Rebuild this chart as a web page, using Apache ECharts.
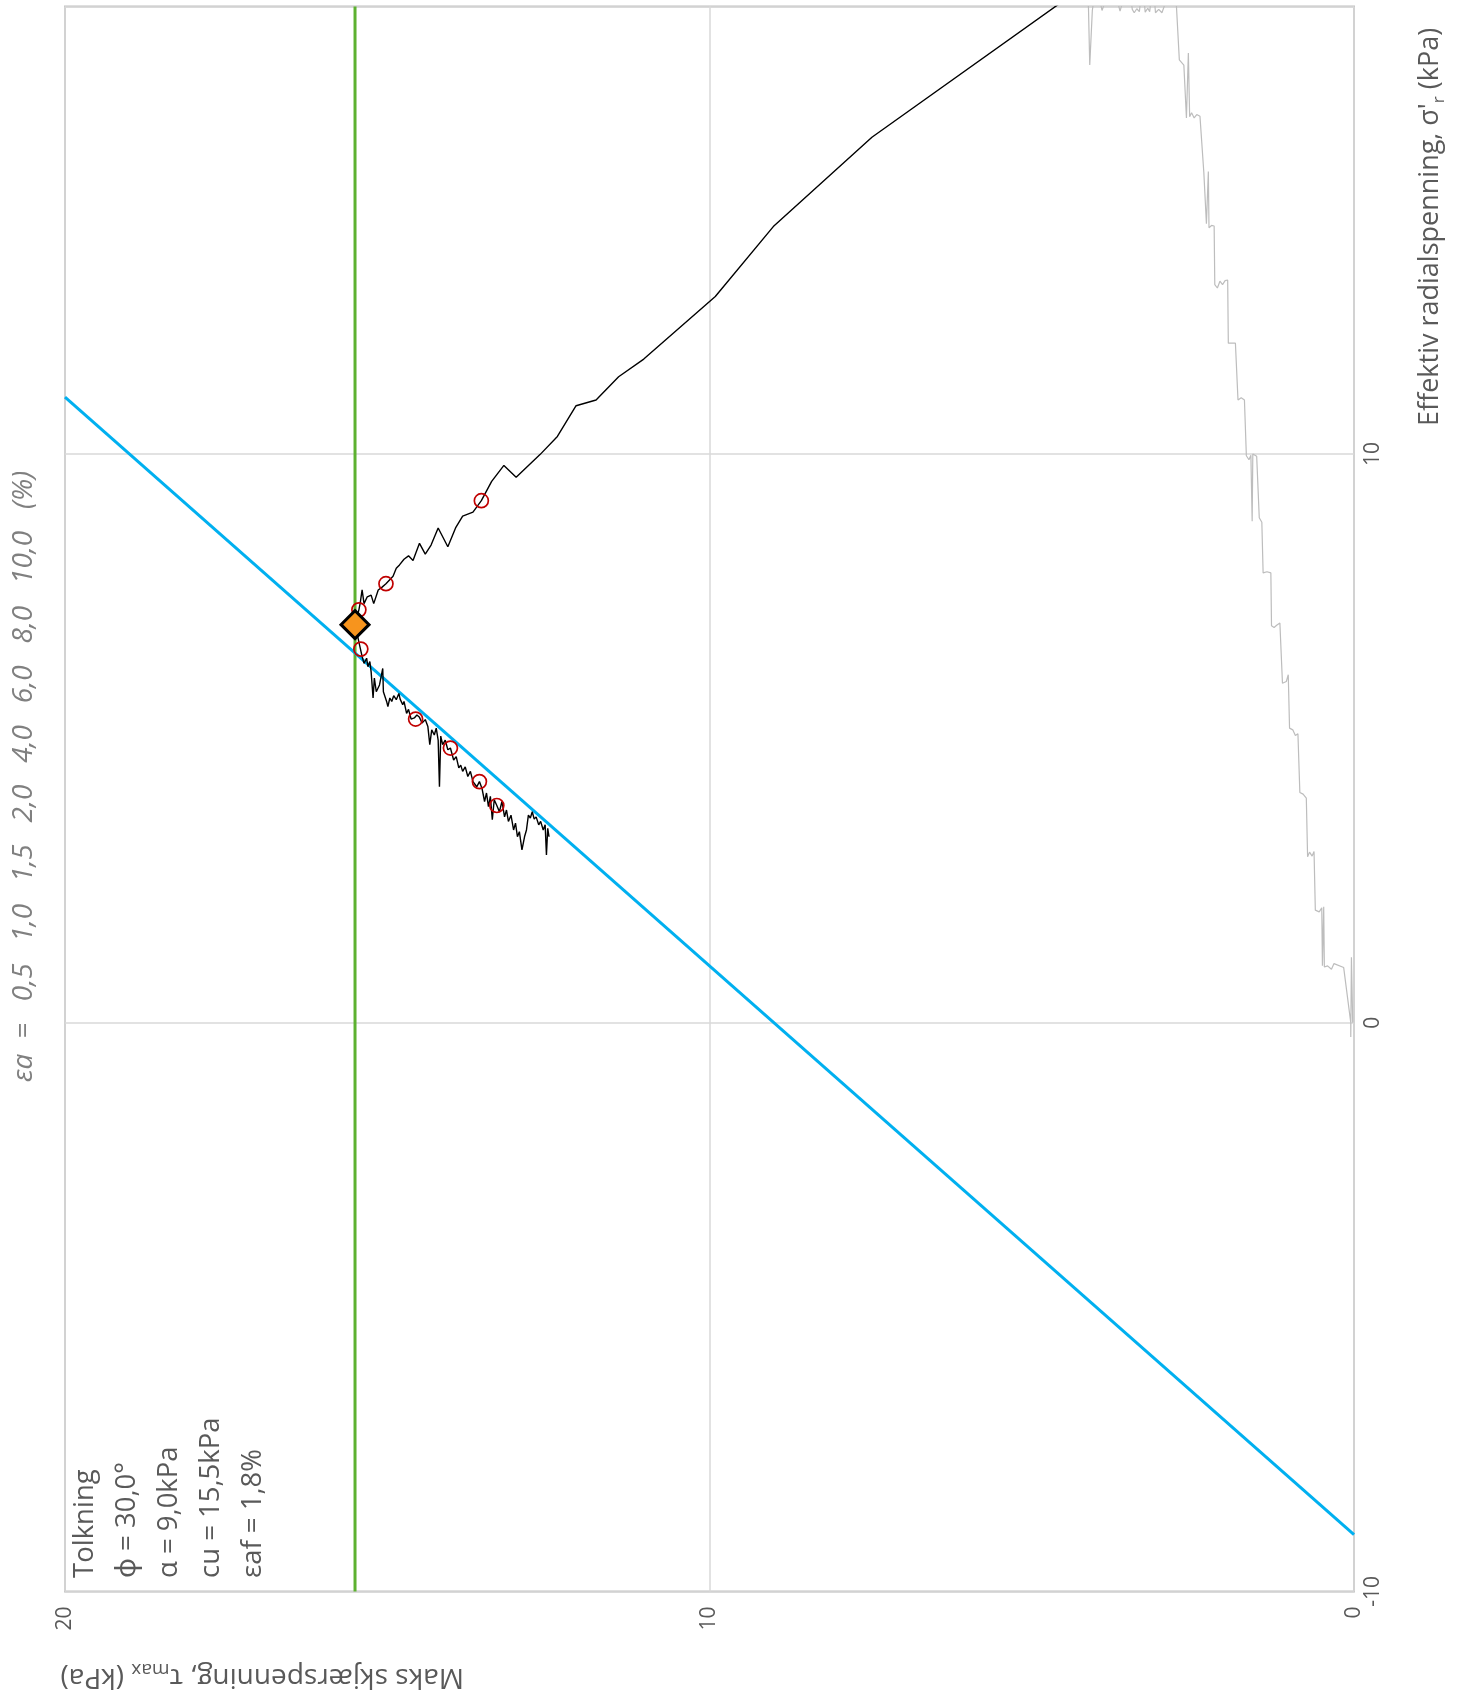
<!DOCTYPE html>
<html>
<head>
<meta charset="utf-8">
<title>Spenningssti – maks skjærspenning mot effektiv radialspenning</title>
<script src="https://cdn.jsdelivr.net/npm/echarts@6.0.0/dist/echarts.min.js"></script>
<style>
  html, body { margin: 0; padding: 0; background: #ffffff; }
  #chart { width: 1464px; height: 1692px; }
</style>
</head>
<body>
<div id="chart"></div>
<script>
// Stress path plot: shear stress tau_max (horizontal, reversed) against
// effective radial stress sigma'_r (vertical, axis on the right side).

// Axis ranges and tick values (kPa)
const tauMin = 0, tauMax = 20;
const sigmaMin = -10, sigmaMax = 17.87;
const tauTicks = [0, 10, 20];
const sigmaTicks = [-10, 0, 10];

// Interpretation parameters
const phiDeg = 30.0;      // friction angle
const attraction = 9.0;   // a, kPa
const cu = 15.5;          // undrained shear strength, kPa
const eaf = 1.8;          // axial strain at failure, %
const failureSigma = 7.0; // sigma'_r at the failure point, kPa

// Consolidation phase, [sigma'_r, tau]
const consolidationPath = [
  [0.00,0.02],[1.15,0.04],[-0.25,0.05],[0.00,0.05],[0.97,0.16],[1.04,0.31],[0.94,0.35],
  [1.00,0.41],[0.98,0.46],[2.04,0.47],[1.00,0.49],[2.02,0.50],[1.95,0.54],[1.98,0.60],
  [3.01,0.62],[2.93,0.65],[3.00,0.69],[2.92,0.72],[3.95,0.74],[4.02,0.79],[4.05,0.84],
  [5.08,0.87],[5.05,0.91],[5.15,0.95],[5.18,1.00],[6.12,1.02],[6.00,1.05],[5.97,1.11],
  [7.03,1.15],[6.99,1.20],[6.95,1.24],[6.98,1.28],[7.91,1.29],[7.93,1.35],[7.91,1.41],
  [8.80,1.43],[8.88,1.47],[9.96,1.51],[10.00,1.57],[8.82,1.58],[9.98,1.60],[9.90,1.63],
  [9.97,1.67],[10.95,1.70],[10.99,1.75],[10.95,1.80],[10.92,1.83],[11.95,1.84],[11.95,1.90],
  [11.95,1.95],[13.06,1.96],[13.05,2.00],[12.98,2.04],[13.04,2.08],[12.92,2.12],[12.98,2.16],
  [14.01,2.17],[14.02,2.21],[13.98,2.25],[14.97,2.26],[14.05,2.29],[14.95,2.33],[14.97,2.36],
  [15.94,2.39],[15.97,2.44],[15.91,2.48],[16.00,2.52],[15.93,2.55],[17.05,2.57],[15.91,2.60],
  [16.84,2.64],[16.87,2.67],[16.93,2.71],[18.40,2.78],[17.76,2.98],[17.82,3.03],[17.76,3.08],
  [18.30,3.12],[17.78,3.17],[17.84,3.20],[17.77,3.24],[18.30,3.28],[17.78,3.33],[17.83,3.37],
  [17.76,3.41],[17.82,3.44],[18.30,3.50],[17.79,3.63],[18.30,3.75],[17.80,3.91],[18.30,4.00],
  [17.80,4.06],[16.84,4.10],[17.85,4.12],[18.40,4.16]
];

// Shearing phase, [sigma'_r, tau]
const shearPath = [
  [18.30,4.10],[15.57,7.48],[14.00,9.01],[12.77,9.91],[11.67,11.02],[11.36,11.41],[10.95,11.76],
  [10.85,12.07],[10.31,12.36],[9.99,12.63],[9.59,13.00],[9.80,13.19],[9.52,13.38],[9.18,13.54],
  [8.98,13.67],[8.91,13.83],[8.70,13.94],[8.37,14.06],[8.70,14.21],[8.40,14.32],[8.24,14.41],
  [8.43,14.50],[8.13,14.60],[8.21,14.67],[8.15,14.74],[8.05,14.81],[7.99,14.86],[7.85,14.91],
  [7.72,15.02],[7.66,15.08],[7.61,15.14],[7.37,15.21],[7.52,15.25],[7.49,15.31],[7.37,15.36],
  [7.61,15.39],[7.38,15.42],[7.26,15.44],[7.00,15.50],[6.80,15.46],[6.59,15.42],[6.44,15.39],
  [6.32,15.36],[6.41,15.32],[6.26,15.30],[6.35,15.27],[6.17,15.25],[5.71,15.22],[6.06,15.20],
  [5.82,15.17],[5.94,15.12],[6.23,15.07],[5.82,15.06],[5.65,15.01],[5.56,14.99],[5.71,14.96],
  [5.65,14.93],[5.75,14.90],[5.68,14.86],[5.79,14.82],[5.69,14.80],[5.59,14.76],[5.65,14.74],
  [5.44,14.70],[5.51,14.67],[5.34,14.63],[5.36,14.58],[5.41,14.54],[5.37,14.50],[5.27,14.46],
  [5.33,14.41],[5.21,14.37],[4.89,14.34],[5.15,14.31],[5.06,14.27],[5.18,14.24],[4.97,14.21],
  [4.15,14.19],[5.04,14.17],[4.89,14.14],[4.97,14.10],[4.80,14.06],[4.83,14.02],[4.62,13.97],
  [4.68,13.93],[4.48,13.89],[4.53,13.86],[4.42,13.83],[4.50,13.79],[4.33,13.75],[4.42,13.71],
  [4.24,13.67],[4.15,13.61],[4.24,13.57],[4.12,13.53],[3.89,13.49],[4.04,13.46],[3.80,13.43],
  [3.98,13.40],[3.57,13.37],[3.92,13.34],[3.82,13.30],[3.71,13.26],[3.89,13.22],[3.62,13.18],
  [3.74,13.15],[3.54,13.12],[3.65,13.08],[3.39,13.04],[3.51,13.01],[3.27,12.98],[3.36,12.95],
  [3.04,12.91],[3.27,12.87],[3.39,12.84],[3.65,12.81],[3.60,12.78],[3.71,12.75],[3.58,12.72],
  [3.62,12.69],[3.48,12.65],[3.54,12.62],[3.39,12.58],[3.48,12.55],[2.95,12.53],[3.42,12.51],
  [3.27,12.49]
];

// Axial strain markers along the shear path
const strainLevels = ['0,5', '1,0', '1,5', '2,0', '4,0', '6,0', '8,0', '10,0'];
const strainSigma  = [9.18, 7.72, 7.26, 6.57, 5.34, 4.83, 4.24, 3.82];
const strainTau    = [13.54, 15.02, 15.44, 15.41, 14.56, 14.02, 13.57, 13.30];

// ---------------------------------------------------------------------------
const FONT = '"Open Sans", "Noto Sans", sans-serif';
const TEXT_GREY = '#595959';
const fmt1 = v => v.toFixed(1).replace('.', ',');

// Failure envelope tau = (sigma'_r + a) * N, N = sin(phi) / (1 - sin(phi))
const sinPhi = Math.sin(phiDeg * Math.PI / 180);
const N = sinPhi / (1 - sinPhi);
const envelope = [[tauMin, -attraction], [tauMax, tauMax / N - attraction]];

const toXY = p => [p[1], p[0]]; // [sigma, tau] -> [x = tau, y = sigma]

const strainHeader = 'εa  =   ' + strainLevels.join('   ') + '   (%)';
const interpText = [
  'Tolkning',
  'ϕ = ' + fmt1(phiDeg) + '°',
  'α = ' + fmt1(attraction) + 'kPa',
  'cu = ' + fmt1(cu) + 'kPa',
  'εaf = ' + fmt1(eaf) + '%'
].join('\n');

const chart = echarts.init(document.getElementById('chart'), null, { renderer: 'canvas' });

chart.setOption({
  animation: false,
  backgroundColor: '#ffffff',
  grid: {
    left: 65, right: 110, top: 6.5, bottom: 100.6,
    show: true, borderColor: '#bfbfbf', borderWidth: 2, backgroundColor: 'transparent'
  },
  xAxis: {
    type: 'value', min: tauMin, max: tauMax, interval: 10, inverse: true,
    position: 'bottom',
    axisLine: { show: false }, axisTick: { show: false },
    splitLine: { show: true, lineStyle: { color: '#d9d9d9', width: 1.5 } },
    axisLabel: {
      rotate: 90, margin: 15, color: TEXT_GREY, fontFamily: FONT, fontSize: 21,
      formatter: v => tauTicks.includes(v) ? String(v) : ''
    }
  },
  yAxis: {
    type: 'value', min: sigmaMin, max: sigmaMax, interval: 10,
    position: 'right',
    axisLine: { show: false }, axisTick: { show: false },
    splitLine: { show: true, lineStyle: { color: '#d9d9d9', width: 1.5 } },
    axisLabel: {
      rotate: 90, margin: 9, color: TEXT_GREY, fontFamily: FONT, fontSize: 21,
      formatter: v => sigmaTicks.includes(v) ? String(v) : ''
    }
  },
  series: [
    {
      name: 'Konsolidering', type: 'line', data: consolidationPath.map(toXY),
      showSymbol: false, clip: true, z: 2,
      lineStyle: { color: '#bdbdbd', width: 1.2 }
    },
    {
      name: 'cu', type: 'line', data: [[cu, sigmaMin], [cu, sigmaMax]],
      showSymbol: false, z: 3,
      lineStyle: { color: '#5db130', width: 3 }
    },
    {
      name: 'Bruddlinje', type: 'line', data: envelope,
      showSymbol: false, clip: true, z: 4,
      lineStyle: { color: '#00b0f0', width: 3 }
    },
    {
      name: 'Skjærfase', type: 'line', data: shearPath.map(toXY),
      showSymbol: false, clip: true, z: 5,
      lineStyle: { color: '#000000', width: 1.4 }
    },
    {
      name: 'εa', type: 'scatter', z: 6,
      data: strainTau.map((t, i) => [t, strainSigma[i]]),
      symbol: 'circle', symbolSize: 14,
      itemStyle: { color: 'rgba(255,255,255,0)', borderColor: '#c00000', borderWidth: 1.7, opacity: 1 }
    },
    {
      name: 'Brudd', type: 'scatter', z: 7,
      data: [[cu, failureSigma]],
      symbol: 'diamond', symbolSize: 28,
      itemStyle: { color: '#f7941d', borderColor: '#000000', borderWidth: 3, opacity: 1 }
    }
  ],
  graphic: [
    {
      type: 'text', x: 23.6, y: 1082, rotation: Math.PI / 2, z: 10,
      style: {
        text: strainHeader, fontFamily: FONT, fontStyle: 'italic', fontSize: 28,
        fill: '#808080', align: 'left', verticalAlign: 'middle'
      }
    },
    {
      type: 'text', x: 64, y: 1578, rotation: Math.PI / 2, z: 10,
      style: {
        text: interpText, fontFamily: FONT, fontSize: 27.5, lineHeight: 42,
        fill: TEXT_GREY, align: 'left', verticalAlign: 'top'
      }
    },
    {
      type: 'text', x: 1430.5, y: 426, rotation: Math.PI / 2, z: 10,
      style: {
        text: "{n|Effektiv radialspenning, σ'}{s|r}{n| (kPa)}",
        align: 'left', verticalAlign: 'middle',
        rich: {
          n: { fontFamily: FONT, fontSize: 27, lineHeight: 34, fill: TEXT_GREY },
          s: { fontFamily: FONT, fontSize: 17, lineHeight: 17, fill: TEXT_GREY, verticalAlign: 'bottom' }
        }
      }
    },
    {
      type: 'text', x: 464, y: 1677, rotation: Math.PI, z: 10,
      style: {
        text: '{n|Maks skjærspenning, τ}{s|max}{n| (kPa)}',
        align: 'left', verticalAlign: 'middle',
        rich: {
          n: { fontFamily: FONT, fontSize: 28, lineHeight: 35, fill: TEXT_GREY },
          s: { fontFamily: FONT, fontSize: 19, lineHeight: 19, fill: TEXT_GREY, verticalAlign: 'bottom' }
        }
      }
    }
  ]
});
</script>
</body>
</html>
